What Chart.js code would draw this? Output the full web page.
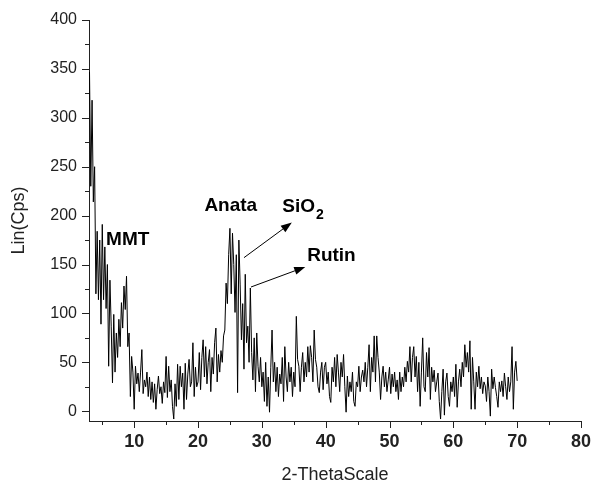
<!DOCTYPE html>
<html lang="en">
<head>
    <meta charset="UTF-8">
    <title>XRD pattern</title>
    <script src="https://cdn.jsdelivr.net/npm/chart.js"></script>
    <style>
        body {
            margin: 0;
            background: #ffffff;
        }
        canvas {
            display: block;
        }
    </style>
</head>
<body>
    <canvas id="xrdChart" width="594" height="484"></canvas>

    <script>
        // 2-theta positions (deg)
        const twoTheta = [
            3,3.2,3.4,3.6,3.8, 4,4.2,4.4,4.6,4.8, 5,5.2,5.4,5.6,5.8, 6,6.2,6.4,6.6,6.8,
            7,7.2,7.4,7.6,7.8, 8,8.2,8.4,8.6,8.8, 9,9.2,9.4,9.6,9.8, 10,10.2,10.4,10.6,10.8,
            11,11.2,11.4,11.6,11.8, 12,12.2,12.4,12.6,12.8, 13,13.2,13.4,13.6,13.8, 14,14.2,14.4,14.6,14.8,
            15,15.2,15.4,15.6,15.8, 16,16.2,16.4,16.6,16.8, 17,17.2,17.4,17.6,17.8, 18,18.2,18.4,18.6,18.8,
            19,19.2,19.4,19.6,19.8, 20,20.2,20.4,20.6,20.8, 21,21.2,21.4,21.6,21.8, 22,22.2,22.4,22.6,22.8,
            23,23.2,23.4,23.6,23.8, 24,24.2,24.4,24.6,24.8, 25,25.2,25.4,25.6,25.8, 26,26.2,26.4,26.6,26.8,
            27,27.2,27.4,27.6,27.8, 28,28.2,28.4,28.6,28.8, 29,29.2,29.4,29.6,29.8, 30,30.2,30.4,30.6,30.8,
            31,31.2,31.4,31.6,31.8, 32,32.2,32.4,32.6,32.8, 33,33.2,33.4,33.6,33.8, 34,34.2,34.4,34.6,34.8,
            35,35.2,35.4,35.6,35.8, 36,36.2,36.4,36.6,36.8, 37,37.2,37.4,37.6,37.8, 38,38.2,38.4,38.6,38.8,
            39,39.2,39.4,39.6,39.8, 40,40.2,40.4,40.6,40.8, 41,41.2,41.4,41.6,41.8, 42,42.2,42.4,42.6,42.8,
            43,43.2,43.4,43.6,43.8, 44,44.2,44.4,44.6,44.8, 45,45.2,45.4,45.6,45.8, 46,46.2,46.4,46.6,46.8,
            47,47.2,47.4,47.6,47.8, 48,48.2,48.4,48.6,48.8, 49,49.2,49.4,49.6,49.8, 50,50.2,50.4,50.6,50.8,
            51,51.2,51.4,51.6,51.8, 52,52.2,52.4,52.6,52.8, 53,53.2,53.4,53.6,53.8, 54,54.2,54.4,54.6,54.8,
            55,55.2,55.4,55.6,55.8, 56,56.2,56.4,56.6,56.8, 57,57.2,57.4,57.6,57.8, 58,58.2,58.4,58.6,58.8,
            59,59.2,59.4,59.6,59.8, 60,60.2,60.4,60.6,60.8, 61,61.2,61.4,61.6,61.8, 62,62.2,62.4,62.6,62.8,
            63,63.2,63.4,63.6,63.8, 64,64.2,64.4,64.6,64.8, 65,65.2,65.4,65.6,65.8, 66,66.2,66.4,66.6,66.8,
            67,67.2,67.4,67.6,67.8, 68,68.2,68.4,68.6,68.8, 69,69.2,69.4,69.6,69.8, 70
        ];

        // intensity Lin(Cps)
        const intensity = [
            347,230,318,214,250, 120,184,114,175,89, 191,114,168,105,150, 46,134,87,29,99,
            40,80,55,94,66, 111,85,128,104,138, 66,80,15,56,40, 2,46,28,39,20,
            40,63,18,32,25, 40,15,35,12,30, 9,28,2,22,36, 18,25,8,30,19,
            56,14,46,20,32, 5,-8,28,5,48, 12,46,25,39,2, 49,12,38,53,25,
            30,70,15,45,25, 30,60,22,55,73, 35,66,28,50,63, 20,55,38,70,85,
            30,58,40,62,50, 77,83,131,110,160, 187,120,182,150,101, 160,19,175,130,73,
            110,43,140,70,87, 50,126,60,32,75, 20,80,46,30,55, 25,40,10,50,5,
            35,-1,45,83,30, 50,20,45,15,38, 28,55,10,66,35, 20,50,30,45,15,
            40,25,97,53,46, 20,45,60,30,50, 35,66,40,67,55, 30,83,53,45,25,
            19,40,50,22,45, 50,28,40,15,9, 45,30,55,25,58, 40,20,50,35,58,
            25,-1,36,15,30, 20,40,10,5,30, 25,46,20,35,42, 30,50,25,45,68,
            20,55,40,77,30, 77,55,40,12,35, 46,25,40,20,32, 45,18,38,25,40,
            20,32,12,40,20, 35,25,45,30,51, 40,66,30,55,66, 35,56,20,50,5,
            40,75,25,20,60, 35,65,12,45,30, 42,20,30,39,10, -8,20,43,-4,30,
            39,15,5,30,20, 35,15,48,4,30, 43,25,50,35,68, 45,60,40,72,2,
            55,30,2,40,25, 46,23,35,18,30, 26,10,35,20,-5, 43,23,35,24,15,
            4,30,20,31,15, 39,25,12,35,20, 30,66,2,40,51, 31
        ];

        // phase labels and arrows (data coordinates)
        const phaseLabels = [
            { text: 'MMT', x: 5.6, y: 175 },
            { text: 'Anata', x: 21.0, y: 210 },
            { text: 'SiO', sub: '2', x: 33.2, y: 209 },
            { text: 'Rutin', x: 37.1, y: 159 }
        ];
        const phaseArrows = [
            { from: [27.2, 157], to: [34.7, 193] },
            { from: [28.3, 127], to: [36.8, 147.5] }
        ];

        const FONT = '"Liberation Sans", Arial, Helvetica, sans-serif';
        const INK = '#222222';

        // draws the short/long tick marks plus the phase annotations
        const decorations = {
            id: 'decorations',
            afterDraw(chart) {
                const ctx = chart.ctx;
                const xs = chart.scales.x;
                const ys = chart.scales.y;
                const area = chart.chartArea;

                ctx.save();
                ctx.strokeStyle = INK;
                ctx.lineWidth = 1;
                ctx.beginPath();
                xs.ticks.forEach(t => {
                    const px = Math.round(xs.getPixelForValue(t.value)) + 0.5;
                    const len = t.value % 10 === 0 ? 7 : 4;
                    ctx.moveTo(px, area.bottom);
                    ctx.lineTo(px, area.bottom + len);
                });
                ys.ticks.forEach(t => {
                    const py = Math.round(ys.getPixelForValue(t.value)) + 0.5;
                    const len = t.value % 50 === 0 ? 7 : 4;
                    ctx.moveTo(area.left, py);
                    ctx.lineTo(area.left - len, py);
                });
                ctx.stroke();

                // labels
                ctx.fillStyle = '#000';
                ctx.textBaseline = 'middle';
                ctx.textAlign = 'left';
                phaseLabels.forEach(l => {
                    const px = xs.getPixelForValue(l.x);
                    const py = ys.getPixelForValue(l.y);
                    ctx.font = 'bold 19px ' + FONT;
                    ctx.fillText(l.text, px, py);
                    if (l.sub) {
                        const w = ctx.measureText(l.text).width;
                        ctx.font = 'bold 14px ' + FONT;
                        ctx.fillText(l.sub, px + w + 1, py + 8);
                    }
                });

                // arrows
                ctx.strokeStyle = '#000';
                ctx.fillStyle = '#000';
                phaseArrows.forEach(a => {
                    const x1 = xs.getPixelForValue(a.from[0]);
                    const y1 = ys.getPixelForValue(a.from[1]);
                    const x2 = xs.getPixelForValue(a.to[0]);
                    const y2 = ys.getPixelForValue(a.to[1]);
                    const ang = Math.atan2(y2 - y1, x2 - x1);
                    const head = 11;
                    ctx.beginPath();
                    ctx.moveTo(x1, y1);
                    ctx.lineTo(x2 - head * Math.cos(ang), y2 - head * Math.sin(ang));
                    ctx.stroke();
                    ctx.beginPath();
                    ctx.moveTo(x2, y2);
                    ctx.lineTo(x2 - head * Math.cos(ang) + 4 * Math.sin(ang), y2 - head * Math.sin(ang) - 4 * Math.cos(ang));
                    ctx.lineTo(x2 - head * Math.cos(ang) - 4 * Math.sin(ang), y2 - head * Math.sin(ang) + 4 * Math.cos(ang));
                    ctx.closePath();
                    ctx.fill();
                });
                ctx.restore();
            }
        };

        const ctx = document.getElementById('xrdChart').getContext('2d');
        new Chart(ctx, {
            type: 'line',
            data: {
                datasets: [{
                    data: twoTheta.map((x, i) => ({ x: x, y: intensity[i] })),
                    borderColor: '#000000',
                    borderWidth: 1,
                    pointRadius: 0,
                    tension: 0,
                    fill: false
                }]
            },
            options: {
                responsive: false,
                animation: false,
                devicePixelRatio: 1,
                layout: {
                    padding: { left: 0, right: 11, top: 20, bottom: 0 }
                },
                plugins: {
                    legend: { display: false },
                    tooltip: { enabled: false }
                },
                scales: {
                    x: {
                        type: 'linear',
                        min: 2.92,
                        max: 80,
                        afterFit: s => { s.height = 63; },
                        border: { display: true, color: INK, width: 1 },
                        grid: {
                            drawOnChartArea: false,
                            drawTicks: true,
                            tickLength: 7,
                            tickColor: 'rgba(0,0,0,0)'
                        },
                        ticks: {
                            stepSize: 5,
                            includeBounds: false,
                            autoSkip: false,
                            maxRotation: 0,
                            padding: 3,
                            color: INK,
                            font: { family: FONT, size: 18, weight: 'bold' },
                            callback: v => (v % 10 === 0 ? String(v) : '')
                        },
                        title: {
                            display: true,
                            text: '2-ThetaScale',
                            color: INK,
                            font: { family: FONT, size: 18, lineHeight: 1 },
                            padding: { top: 0, bottom: 0 }
                        }
                    },
                    y: {
                        min: -10,
                        max: 400,
                        afterFit: s => { s.width = 89; },
                        border: { display: true, color: INK, width: 1 },
                        grid: {
                            drawOnChartArea: false,
                            drawTicks: true,
                            tickLength: 7,
                            tickColor: 'rgba(0,0,0,0)'
                        },
                        ticks: {
                            stepSize: 25,
                            includeBounds: false,
                            autoSkip: false,
                            padding: 5,
                            color: INK,
                            font: { family: FONT, size: 16 },
                            callback: v => (v % 50 === 0 ? String(v) : '')
                        },
                        title: {
                            display: true,
                            text: 'Lin(Cps)',
                            color: INK,
                            font: { family: FONT, size: 18, lineHeight: 1 },
                            padding: { top: 10, bottom: 0 }
                        }
                    }
                }
            },
            plugins: [decorations]
        });
    </script>
</body>
</html>
